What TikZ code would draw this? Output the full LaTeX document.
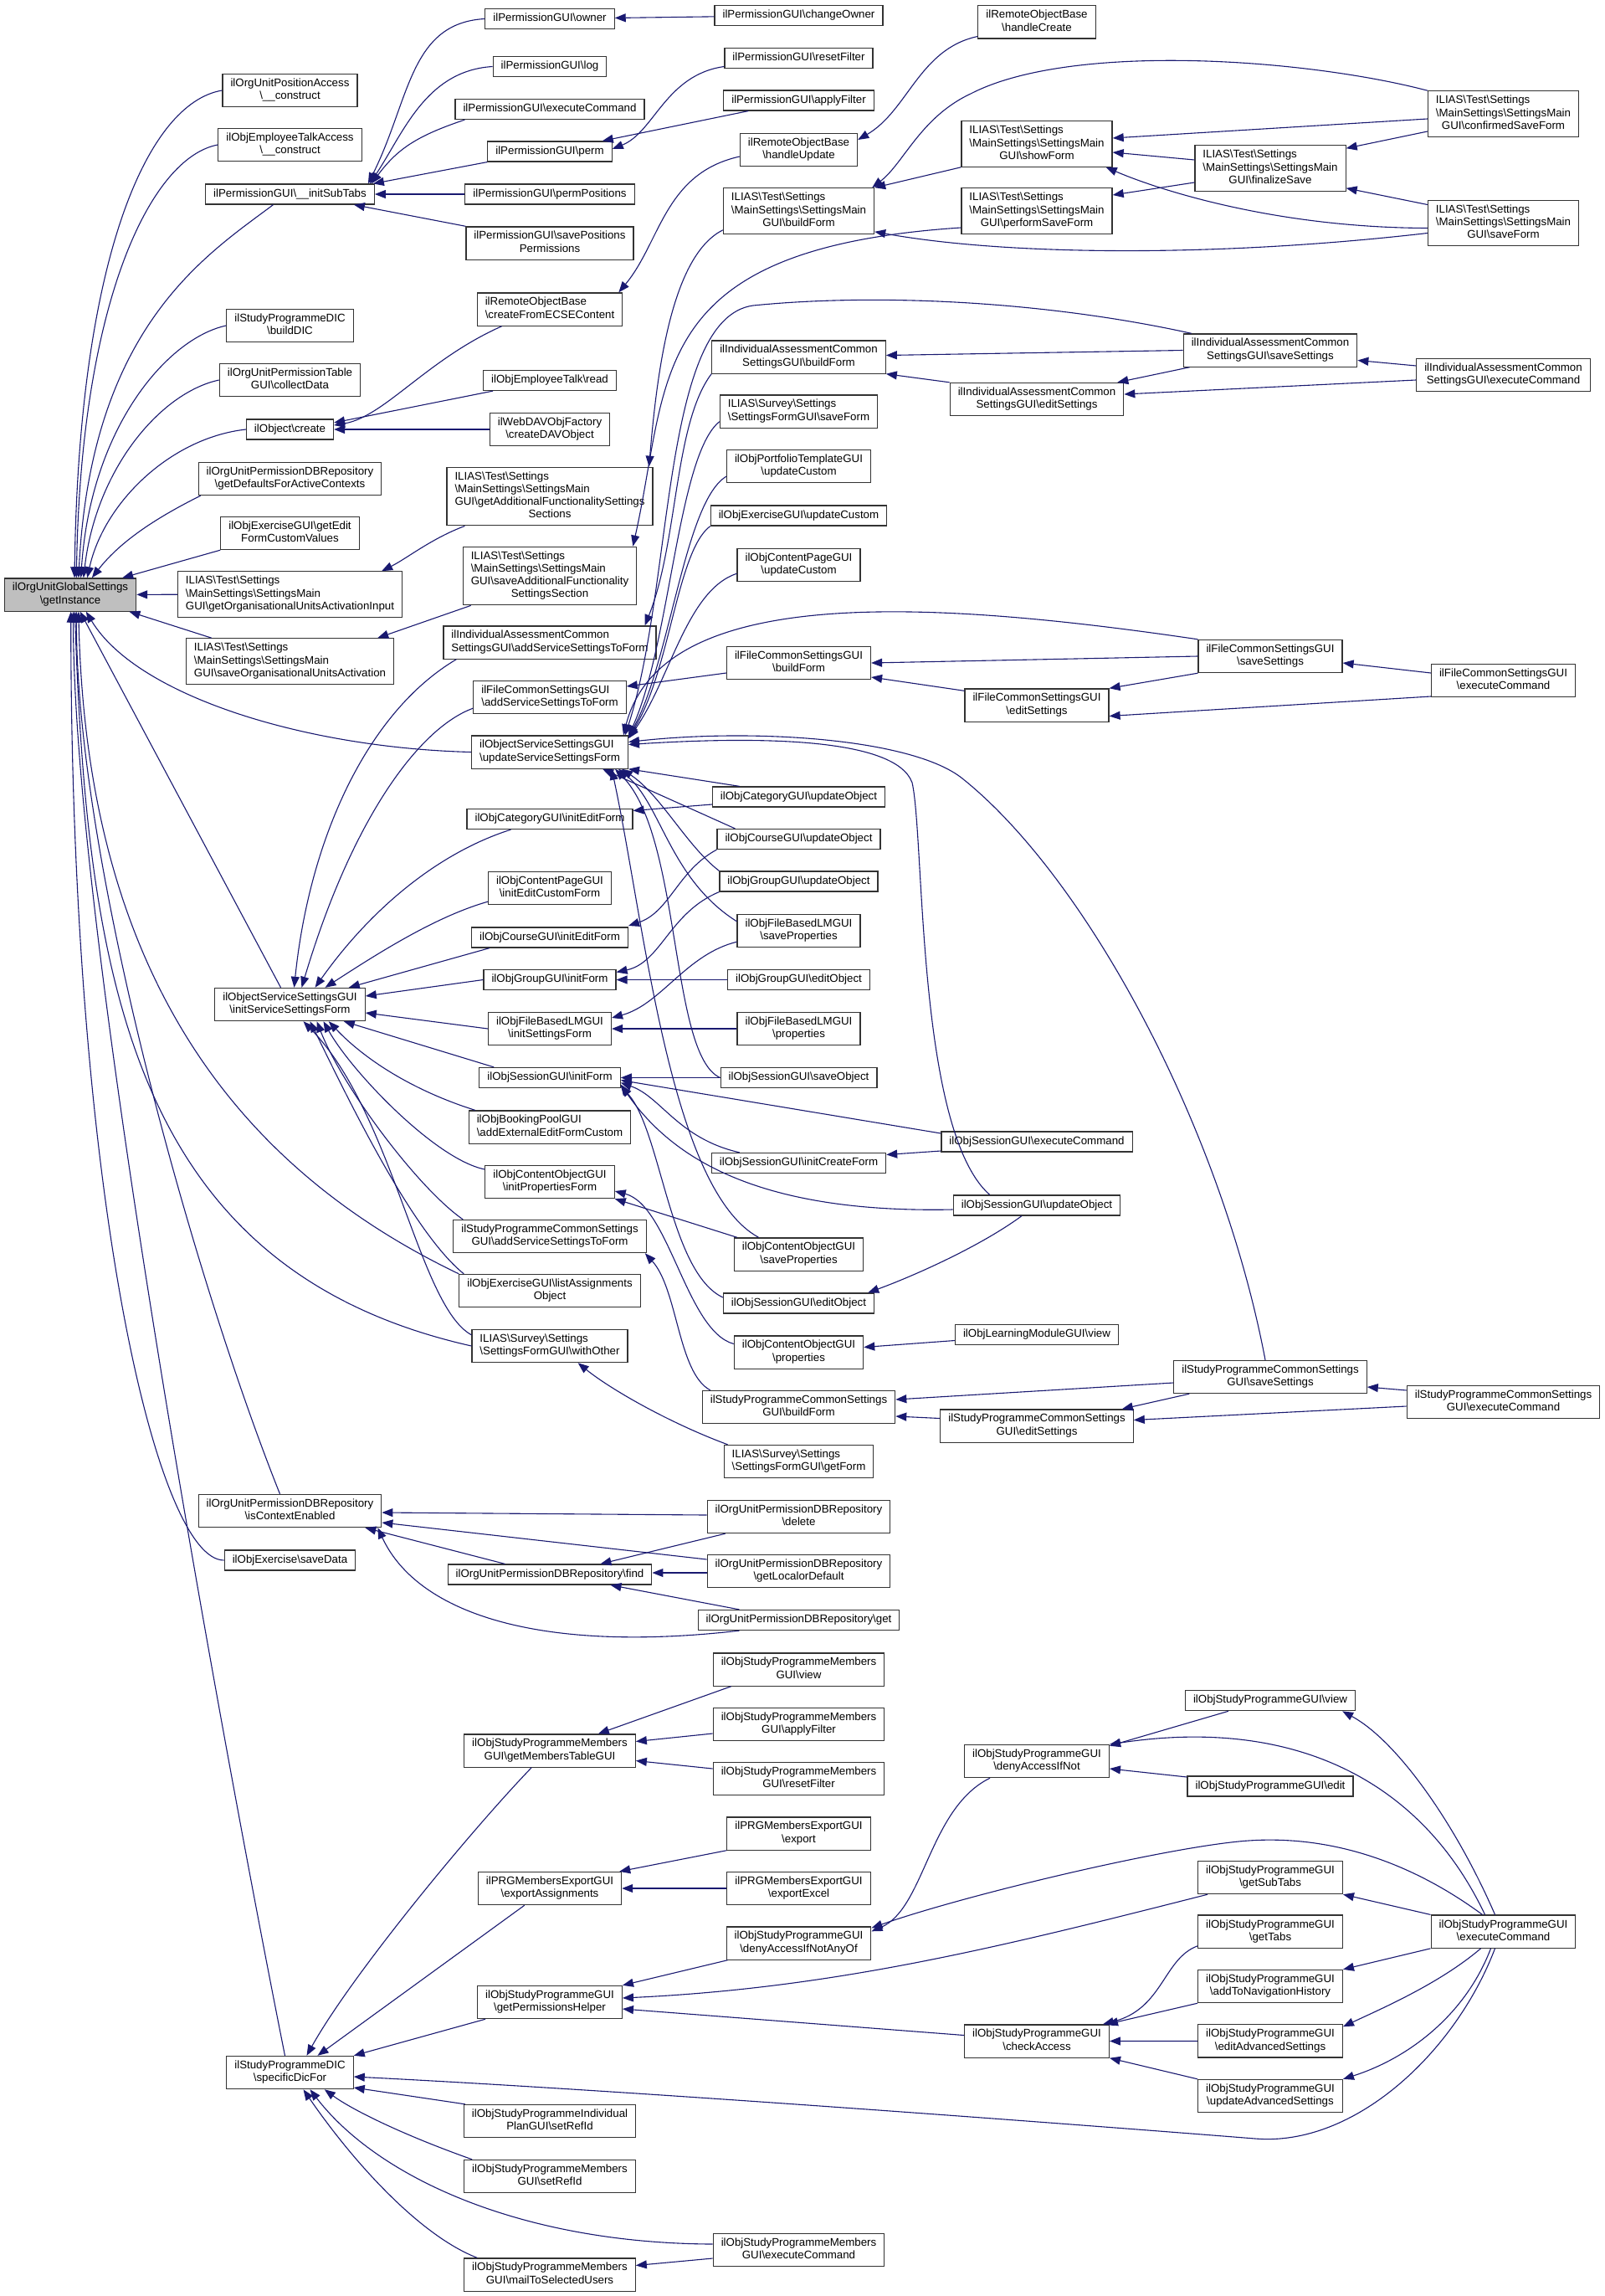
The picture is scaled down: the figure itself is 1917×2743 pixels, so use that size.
\documentclass[tikz,border=0pt]{standalone}
\usepackage{fontspec}
\setmainfont{Liberation Sans}
\usepackage{tikz}
\usetikzlibrary{arrows.meta}
\definecolor{edgeblue}{RGB}{25,25,112}
\definecolor{rootgray}{RGB}{191,191,191}
\newcommand{\bsl}{\textbackslash}
\newcommand{\fnl}[1]{\begin{tabular}{@{}c@{}}#1\end{tabular}}
\newcommand{\fnm}[2]{\begin{tabular}{@{}l@{}}#1\\\multicolumn{1}{@{}c@{}}{#2}\end{tabular}}
\newcommand{\mainset}[1]{\fnm{ILIAS\bsl Test\bsl Settings\\\bsl MainSettings\bsl SettingsMain}{#1}}
\tikzset{
  fn/.style={draw=black!80, line width=1.2pt, fill=white, inner xsep=9.5pt, inner ysep=4.4pt, font=\fontsize{13.3}{15.2}\selectfont},
  fnroot/.style={fn, fill=rootgray},
  cg/.style={draw=edgeblue, line width=1.1pt, -{Triangle[length=13pt,width=10pt]}},
}
\begin{document}
\begin{tikzpicture}[x=1pt, y=1pt]
\useasboundingbox (0,0) rectangle (1917,-2743);
% Create nodes for the called functions
\node[fnroot] (getInstance) at (84,-710.5) {\fnm{ilOrgUnitGlobalSettings}{\bsl getInstance}};

\node[fn] (posAccess) at (346.5,-108) {\fnm{ilOrgUnitPositionAccess}{\bsl\_\_construct}};
\node[fn, below of=posAccess, node distance=65pt] (empTalkAccess) {\fnm{ilObjEmployeeTalkAccess}{\bsl\_\_construct}};
\node[fn, below of=empTalkAccess, node distance=59pt] (initSubTabs) {\fnl{ilPermissionGUI\bsl\_\_initSubTabs}};
\node[fn, below of=initSubTabs, node distance=157pt] (buildDIC) {\fnm{ilStudyProgrammeDIC}{\bsl buildDIC}};
\node[fn, below of=buildDIC, node distance=65pt] (collectData) {\fnm{ilOrgUnitPermissionTable}{GUI\bsl collectData}};
\node[fn, below of=collectData, node distance=59pt] (objCreate) {\fnl{ilObject\bsl create}};
\node[fn, below of=objCreate, node distance=59pt] (getDefaults) {\fnm{ilOrgUnitPermissionDBRepository}{\bsl getDefaultsForActiveContexts}};
\node[fn, below of=getDefaults, node distance=65pt] (getEditForm) {\fnm{ilObjExerciseGUI\bsl getEdit}{FormCustomValues}};
\node[fn, below of=getEditForm, node distance=73pt] (getOrgInput) {\mainset{GUI\bsl getOrganisationalUnitsActivationInput}};
\node[fn, below of=getOrgInput, node distance=80pt] (saveOrgAct) {\mainset{GUI\bsl saveOrganisationalUnitsActivation}};
\node[fn, below of=saveOrgAct, node distance=410pt] (initSvcForm) {\fnm{ilObjectServiceSettingsGUI}{\bsl initServiceSettingsForm}};
\node[fn, below of=initSvcForm, node distance=605pt] (isCtxEnabled) {\fnm{ilOrgUnitPermissionDBRepository}{\bsl isContextEnabled}};
\node[fn, below of=isCtxEnabled, node distance=59pt] (saveData) {\fnl{ilObjExercise\bsl saveData}};
\node[fn, below of=saveData, node distance=612pt] (specificDicFor) {\fnm{ilStudyProgrammeDIC}{\bsl specificDicFor}};

\node[fn] (owner) at (657,-22.5) {\fnl{ilPermissionGUI\bsl owner}};
\node[fn, below of=owner, node distance=57pt] (log) {\fnl{ilPermissionGUI\bsl log}};
\node[fn, below of=log, node distance=51pt] (permExec) {\fnl{ilPermissionGUI\bsl executeCommand}};
\node[fn, below of=permExec, node distance=50.5pt] (perm) {\fnl{ilPermissionGUI\bsl perm}};
\node[fn, below of=perm, node distance=51pt] (permPositions) {\fnl{ilPermissionGUI\bsl permPositions}};
\node[fn, below of=permPositions, node distance=58.5pt] (savePosPerm) {\fnm{ilPermissionGUI\bsl savePositions}{Permissions}};
\node[fn, below of=savePosPerm, node distance=79pt] (createFromECS) {\fnm{ilRemoteObjectBase}{\bsl createFromECSEContent}};
\node[fn, below of=createFromECS, node distance=85pt] (empTalkRead) {\fnl{ilObjEmployeeTalk\bsl read}};
\node[fn, below of=empTalkRead, node distance=58.5pt] (davObj) {\fnm{ilWebDAVObjFactory}{\bsl createDAVObject}};
\node[fn, below of=davObj, node distance=80pt] (getAddFunc) {\fnm{ILIAS\bsl Test\bsl Settings\\\bsl MainSettings\bsl SettingsMain\\GUI\bsl getAdditionalFunctionalitySettings}{Sections}};
\node[fn, below of=getAddFunc, node distance=95pt] (saveAddFunc) {\fnm{ILIAS\bsl Test\bsl Settings\\\bsl MainSettings\bsl SettingsMain\\GUI\bsl saveAdditionalFunctionality}{SettingsSection}};
\node[fn, below of=saveAddFunc, node distance=79.5pt] (iaAddSvc) {\fnm{ilIndividualAssessmentCommon}{SettingsGUI\bsl addServiceSettingsToForm}};
\node[fn, below of=iaAddSvc, node distance=65.5pt] (fcAddSvc) {\fnm{ilFileCommonSettingsGUI}{\bsl addServiceSettingsToForm}};
\node[fn, below of=fcAddSvc, node distance=65.5pt] (updSvc) {\fnm{ilObjectServiceSettingsGUI}{\bsl updateServiceSettingsForm}};
\node[fn, below of=updSvc, node distance=80pt] (catInitEdit) {\fnl{ilObjCategoryGUI\bsl initEditForm}};
\node[fn, below of=catInitEdit, node distance=82.5pt] (cpInitEdit) {\fnm{ilObjContentPageGUI}{\bsl initEditCustomForm}};
\node[fn, below of=cpInitEdit, node distance=59pt] (crsInitEdit) {\fnl{ilObjCourseGUI\bsl initEditForm}};
\node[fn, below of=crsInitEdit, node distance=50.5pt] (grpInitForm) {\fnl{ilObjGroupGUI\bsl initForm}};
\node[fn, below of=grpInitForm, node distance=58.5pt] (flmInitSet) {\fnm{ilObjFileBasedLMGUI}{\bsl initSettingsForm}};
\node[fn, below of=flmInitSet, node distance=58.5pt] (sessInitForm) {\fnl{ilObjSessionGUI\bsl initForm}};
\node[fn, below of=sessInitForm, node distance=59pt] (bookPool) {\fnm{ilObjBookingPoolGUI}{\bsl addExternalEditFormCustom}};
\node[fn, below of=bookPool, node distance=65.5pt] (coInitProp) {\fnm{ilObjContentObjectGUI}{\bsl initPropertiesForm}};
\node[fn, below of=coInitProp, node distance=65pt] (spAddSvc) {\fnm{ilStudyProgrammeCommonSettings}{GUI\bsl addServiceSettingsToForm}};
\node[fn, below of=spAddSvc, node distance=65pt] (excListAss) {\fnm{ilObjExerciseGUI\bsl listAssignments}{Object}};
\node[fn, below of=excListAss, node distance=66pt] (survWithOther) {\fnm{ILIAS\bsl Survey\bsl Settings}{\bsl SettingsFormGUI\bsl withOther}};
\node[fn, below of=survWithOther, node distance=273pt] (find) {\fnl{ilOrgUnitPermissionDBRepository\bsl find}};
\node[fn, below of=find, node distance=210.5pt] (getMembersTable) {\fnm{ilObjStudyProgrammeMembers}{GUI\bsl getMembersTableGUI}};
\node[fn, below of=getMembersTable, node distance=164.5pt] (exportAss) {\fnm{ilPRGMembersExportGUI}{\bsl exportAssignments}};
\node[fn, below of=exportAss, node distance=136pt] (getPermHelper) {\fnm{ilObjStudyProgrammeGUI}{\bsl getPermissionsHelper}};
\node[fn, below of=getPermHelper, node distance=142pt] (indivPlan) {\fnm{ilObjStudyProgrammeIndividual}{PlanGUI\bsl setRefId}};
\node[fn, below of=indivPlan, node distance=66pt] (membersSetRef) {\fnm{ilObjStudyProgrammeMembers}{GUI\bsl setRefId}};
\node[fn, below of=membersSetRef, node distance=117.5pt] (mailSel) {\fnm{ilObjStudyProgrammeMembers}{GUI\bsl mailToSelectedUsers}};

\node[fn] (changeOwner) at (954.5,-18.5) {\fnl{ilPermissionGUI\bsl changeOwner}};
\node[fn, below of=changeOwner, node distance=51pt] (resetFilter) {\fnl{ilPermissionGUI\bsl resetFilter}};
\node[fn, below of=resetFilter, node distance=50.5pt] (applyFilter) {\fnl{ilPermissionGUI\bsl applyFilter}};
\node[fn, below of=applyFilter, node distance=59pt] (handleUpdate) {\fnm{ilRemoteObjectBase}{\bsl handleUpdate}};
\node[fn, below of=handleUpdate, node distance=73pt] (buildFormTest) {\mainset{GUI\bsl buildForm}};
\node[fn, below of=buildFormTest, node distance=174.5pt] (iaBuildForm) {\fnm{ilIndividualAssessmentCommon}{SettingsGUI\bsl buildForm}};
\node[fn, below of=iaBuildForm, node distance=65pt] (survSaveForm) {\fnm{ILIAS\bsl Survey\bsl Settings}{\bsl SettingsFormGUI\bsl saveForm}};
\node[fn, below of=survSaveForm, node distance=65.5pt] (portfolio) {\fnm{ilObjPortfolioTemplateGUI}{\bsl updateCustom}};
\node[fn, below of=portfolio, node distance=59pt] (excUpdCustom) {\fnl{ilObjExerciseGUI\bsl updateCustom}};
\node[fn, below of=excUpdCustom, node distance=59pt] (cpUpdCustom) {\fnm{ilObjContentPageGUI}{\bsl updateCustom}};
\node[fn, below of=cpUpdCustom, node distance=117pt] (fcBuildForm) {\fnm{ilFileCommonSettingsGUI}{\bsl buildForm}};
\node[fn, below of=fcBuildForm, node distance=160pt] (catUpdObj) {\fnl{ilObjCategoryGUI\bsl updateObject}};
\node[fn, below of=catUpdObj, node distance=50.5pt] (crsUpdObj) {\fnl{ilObjCourseGUI\bsl updateObject}};
\node[fn, below of=crsUpdObj, node distance=50.5pt] (grpUpdObj) {\fnl{ilObjGroupGUI\bsl updateObject}};
\node[fn, below of=grpUpdObj, node distance=59pt] (flmSaveProp) {\fnm{ilObjFileBasedLMGUI}{\bsl saveProperties}};
\node[fn, below of=flmSaveProp, node distance=58.5pt] (grpEdit) {\fnl{ilObjGroupGUI\bsl editObject}};
\node[fn, below of=grpEdit, node distance=58.5pt] (flmProps) {\fnm{ilObjFileBasedLMGUI}{\bsl properties}};
\node[fn, below of=flmProps, node distance=58.5pt] (sessSave) {\fnl{ilObjSessionGUI\bsl saveObject}};
\node[fn, below of=sessSave, node distance=102pt] (sessInitCreate) {\fnl{ilObjSessionGUI\bsl initCreateForm}};
\node[fn, below of=sessInitCreate, node distance=109pt] (coSaveProp) {\fnm{ilObjContentObjectGUI}{\bsl saveProperties}};
\node[fn, below of=coSaveProp, node distance=58.5pt] (sessEdit) {\fnl{ilObjSessionGUI\bsl editObject}};
\node[fn, below of=sessEdit, node distance=58.5pt] (coProps) {\fnm{ilObjContentObjectGUI}{\bsl properties}};
\node[fn, below of=coProps, node distance=65.5pt] (spBuildForm) {\fnm{ilStudyProgrammeCommonSettings}{GUI\bsl buildForm}};
\node[fn, below of=spBuildForm, node distance=65pt] (survGetForm) {\fnm{ILIAS\bsl Survey\bsl Settings}{\bsl SettingsFormGUI\bsl getForm}};
\node[fn, below of=survGetForm, node distance=66pt] (repoDelete) {\fnm{ilOrgUnitPermissionDBRepository}{\bsl delete}};
\node[fn, below of=repoDelete, node distance=65pt] (repoGetLocal) {\fnm{ilOrgUnitPermissionDBRepository}{\bsl getLocalorDefault}};
\node[fn, below of=repoGetLocal, node distance=58.5pt] (repoGet) {\fnl{ilOrgUnitPermissionDBRepository\bsl get}};
\node[fn, below of=repoGet, node distance=59pt] (membersView) {\fnm{ilObjStudyProgrammeMembers}{GUI\bsl view}};
\node[fn, below of=membersView, node distance=65.5pt] (membersApply) {\fnm{ilObjStudyProgrammeMembers}{GUI\bsl applyFilter}};
\node[fn, below of=membersApply, node distance=65pt] (membersReset) {\fnm{ilObjStudyProgrammeMembers}{GUI\bsl resetFilter}};
\node[fn, below of=membersReset, node distance=65.5pt] (prgExport) {\fnm{ilPRGMembersExportGUI}{\bsl export}};
\node[fn, below of=prgExport, node distance=65.5pt] (prgExportExcel) {\fnm{ilPRGMembersExportGUI}{\bsl exportExcel}};
\node[fn, below of=prgExportExcel, node distance=65.5pt] (denyAnyOf) {\fnm{ilObjStudyProgrammeGUI}{\bsl denyAccessIfNotAnyOf}};
\node[fn, below of=denyAnyOf, node distance=366.5pt] (membersExec) {\fnm{ilObjStudyProgrammeMembers}{GUI\bsl executeCommand}};

\node[fn] (handleCreate) at (1239,-26.5) {\fnm{ilRemoteObjectBase}{\bsl handleCreate}};
\node[fn, below of=handleCreate, node distance=145.5pt] (showForm) {\mainset{GUI\bsl showForm}};
\node[fn, below of=showForm, node distance=80pt] (performSave) {\mainset{GUI\bsl performSaveForm}};
\node[fn, below of=performSave, node distance=225pt] (iaEdit) {\fnm{ilIndividualAssessmentCommon}{SettingsGUI\bsl editSettings}};
\node[fn, below of=iaEdit, node distance=365.5pt] (fcEdit) {\fnm{ilFileCommonSettingsGUI}{\bsl editSettings}};
\node[fn, below of=fcEdit, node distance=521.5pt] (sessExec) {\fnl{ilObjSessionGUI\bsl executeCommand}};
\node[fn, below of=sessExec, node distance=76pt] (sessUpd) {\fnl{ilObjSessionGUI\bsl updateObject}};
\node[fn, below of=sessUpd, node distance=154.5pt] (lmView) {\fnl{ilObjLearningModuleGUI\bsl view}};
\node[fn, below of=lmView, node distance=109pt] (spEdit) {\fnm{ilStudyProgrammeCommonSettings}{GUI\bsl editSettings}};
\node[fn, below of=spEdit, node distance=400.5pt] (denyIfNot) {\fnm{ilObjStudyProgrammeGUI}{\bsl denyAccessIfNot}};
\node[fn, below of=denyIfNot, node distance=334.5pt] (checkAccess) {\fnm{ilObjStudyProgrammeGUI}{\bsl checkAccess}};

\node[fn] (finalizeSave) at (1518,-201) {\mainset{GUI\bsl finalizeSave}};
\node[fn, below of=finalizeSave, node distance=217.5pt] (iaSave) {\fnm{ilIndividualAssessmentCommon}{SettingsGUI\bsl saveSettings}};
\node[fn, below of=iaSave, node distance=365.5pt] (fcSave) {\fnm{ilFileCommonSettingsGUI}{\bsl saveSettings}};
\node[fn, below of=fcSave, node distance=861pt] (spSave) {\fnm{ilStudyProgrammeCommonSettings}{GUI\bsl saveSettings}};
\node[fn, below of=spSave, node distance=386.7pt] (spgView) {\fnl{ilObjStudyProgrammeGUI\bsl view}};
\node[fn, below of=spgView, node distance=102.3pt] (spgEdit) {\fnl{ilObjStudyProgrammeGUI\bsl edit}};
\node[fn, below of=spgEdit, node distance=109pt] (getSubTabs) {\fnm{ilObjStudyProgrammeGUI}{\bsl getSubTabs}};
\node[fn, below of=getSubTabs, node distance=64.6pt] (getTabs) {\fnm{ilObjStudyProgrammeGUI}{\bsl getTabs}};
\node[fn, below of=getTabs, node distance=65.4pt] (addNav) {\fnm{ilObjStudyProgrammeGUI}{\bsl addToNavigationHistory}};
\node[fn, below of=addNav, node distance=65.4pt] (editAdv) {\fnm{ilObjStudyProgrammeGUI}{\bsl editAdvancedSettings}};
\node[fn, below of=editAdv, node distance=65.6pt] (updAdv) {\fnm{ilObjStudyProgrammeGUI}{\bsl updateAdvancedSettings}};

\node[fn] (confirmedSave) at (1796.5,-136) {\mainset{GUI\bsl confirmedSaveForm}};
\node[fn, below of=confirmedSave, node distance=130.5pt] (saveFormTest) {\mainset{GUI\bsl saveForm}};
\node[fn, below of=saveFormTest, node distance=181.5pt] (iaExec) {\fnm{ilIndividualAssessmentCommon}{SettingsGUI\bsl executeCommand}};
\node[fn, below of=iaExec, node distance=365pt] (fcExec) {\fnm{ilFileCommonSettingsGUI}{\bsl executeCommand}};
\node[fn, below of=fcExec, node distance=862pt] (spExec) {\fnm{ilStudyProgrammeCommonSettings}{GUI\bsl executeCommand}};
\node[fn, below of=spExec, node distance=632.6pt] (spgExec) {\fnm{ilObjStudyProgrammeGUI}{\bsl executeCommand}};

% Callers of getInstance
\draw[cg] (posAccess.west) .. controls +(-90,-15) and +(5,380) .. (getInstance.76);
\draw[cg] (empTalkAccess.west) .. controls +(-80,-15) and +(5,330) .. (getInstance.70);
\draw[cg] ([xshift=-20pt]initSubTabs.south) .. controls +(-80,-60) and +(15,300) .. (getInstance.64);
\draw[cg] (buildDIC.west) .. controls +(-70,-15) and +(12,180) .. (getInstance.58);
\draw[cg] (collectData.west) .. controls +(-70,-15) and +(15,130) .. (getInstance.52);
\draw[cg] (objCreate.west) .. controls +(-90,-10) and +(20,90) .. (getInstance.45);
\draw[cg] ([xshift=3pt]getDefaults.south west) .. controls +(-50,-25) and +(35,45) .. (getInstance.38);
\draw[cg] (getEditForm.south west) -- (getInstance.18);
\draw[cg] (getOrgInput) -- (getInstance);
\draw[cg] ([xshift=31pt]saveOrgAct.north west) -- (getInstance.-16);
\draw[cg] (updSvc.west) .. controls +(-200,5) and +(60,-100) .. (getInstance.-47);
\draw[cg] ([xshift=-11pt]initSvcForm.north) -- (getInstance.-60);
\draw[cg] (excListAss.north west) .. controls +(-250,120) and +(10,-450) .. (getInstance.-64);
\draw[cg] (survWithOther.west) .. controls +(-400,90) and +(15,-450) .. (getInstance.-75);
\draw[cg] ([xshift=-12pt]isCtxEnabled.north) .. controls +(-100,250) and +(0,-300) .. (getInstance.-70);
\draw[cg] (saveData.west) .. controls +(-80,0) and +(0,-700) .. (getInstance.-88);
\draw[cg] ([xshift=-6pt]specificDicFor.north) .. controls +(-60,300) and +(0,-400) .. (getInstance.-80);

% Permission GUI
\draw[cg] (owner.west) .. controls +(-90,-5) and +(50,100) .. ([xshift=-8pt]initSubTabs.north east);
\draw[cg] (log.west) .. controls +(-80,-5) and +(40,60) .. ([xshift=-6pt]initSubTabs.north east);
\draw[cg] ([xshift=12pt]permExec.south west) .. controls +(-60,-20) and +(30,40) .. ([xshift=-4pt]initSubTabs.north east);
\draw[cg] (perm.south west) -- ([xshift=-2pt]initSubTabs.north east);
\draw[cg] (permPositions) -- (initSubTabs);
\draw[cg] (savePosPerm.north west) -- ([xshift=-25pt]initSubTabs.south east);
\draw[cg] (changeOwner) -- (owner);
\draw[cg] ([yshift=-10pt]resetFilter.west) .. controls +(-70,-10) and +(50,20) .. ([yshift=3pt]perm.east);
\draw[cg] ([xshift=30pt]applyFilter.south west) -- ([xshift=-12pt]perm.north east);

% Remote objects and create
\draw[cg] ([yshift=-8pt]handleUpdate.west) .. controls +(-90,-20) and +(50,60) .. ([xshift=-5pt]createFromECS.north east);
\draw[cg] ([yshift=-17pt]handleCreate.west) .. controls +(-70,-15) and +(60,35) .. ([yshift=12pt]handleUpdate.east);
\draw[cg] ([xshift=30pt]createFromECS.south west) .. controls +(-90,-40) and +(60,10) .. ([yshift=5pt]objCreate.east);
\draw[cg] ([xshift=12pt]empTalkRead.south west) -- ([yshift=8pt]objCreate.east);
\draw[cg] (davObj) -- (objCreate);

% Test settings
\draw[cg] ([yshift=5pt]buildFormTest.south west) .. controls +(-60,-30) and +(10,120) .. ([xshift=-5pt]getAddFunc.north east);
\draw[cg] ([xshift=22pt]getAddFunc.south west) .. controls +(-40,-15) and +(30,15) .. ([xshift=-25pt]getOrgInput.north east);
\draw[cg] ([xshift=10pt]saveAddFunc.south west) -- ([xshift=-20pt]saveOrgAct.north east);
\draw[cg] ([yshift=-20pt]performSave.west) .. controls +(-380,-25) and +(45,200) .. ([xshift=-5pt]saveAddFunc.north east);
\draw[cg] (showForm.south west) -- (buildFormTest.north east);
\draw[cg] (confirmedSave.north west) .. controls (1560,-70) and (1280,-50) .. (1160,-112) .. controls (1100,-140) and (1080,-195) .. ([xshift=-3pt]buildFormTest.north east);
\draw[cg] ([yshift=-12pt]saveFormTest.west) .. controls (1450,-308) and (1200,-305) .. ([yshift=3pt]buildFormTest.south east);
\draw[cg] ([yshift=-6pt]confirmedSave.west) -- ([yshift=7pt]showForm.east);
\draw[cg] ([yshift=10pt]finalizeSave.west) -- ([yshift=-10pt]showForm.east);
\draw[cg] ([yshift=-6pt]saveFormTest.west) .. controls (1520,-272) and (1380,-225) .. ([xshift=-8pt]showForm.south east);
\draw[cg] ([yshift=-17pt]finalizeSave.west) -- ([yshift=19pt]performSave.east);
\draw[cg] ([yshift=-21pt]confirmedSave.west) -- ([yshift=-4pt]finalizeSave.north east);
\draw[cg] ([yshift=22pt]saveFormTest.west) -- ([yshift=4pt]finalizeSave.south east);

% Individual assessment and file settings
\draw[cg] (iaBuildForm.south west) .. controls +(-45,-60) and +(40,100) .. ([xshift=-14pt]iaAddSvc.north east);
\draw[cg] (iaSave.west) -- ([yshift=2pt]iaBuildForm.east);
\draw[cg] (iaEdit.north west) -- (iaBuildForm.south east);
\draw[cg] ([xshift=8pt]iaSave.south west) -- ([xshift=-8pt]iaEdit.north east);
\draw[cg] ([yshift=-6pt]iaExec.west) -- ([yshift=6pt]iaEdit.east);
\draw[cg] ([yshift=11pt]iaExec.west) -- ([yshift=-12pt]iaSave.east);
\draw[cg] ([yshift=-12pt]fcBuildForm.west) -- ([yshift=13pt]fcAddSvc.east);
\draw[cg] (fcSave.west) -- (fcBuildForm.east);
\draw[cg] ([yshift=-3pt]fcEdit.north west) -- ([yshift=-17pt]fcBuildForm.east);
\draw[cg] (fcSave.south west) -- (fcEdit.north east);
\draw[cg] ([yshift=-19pt]fcExec.west) -- ([yshift=-13pt]fcEdit.east);
\draw[cg] ([yshift=9pt]fcExec.west) -- ([yshift=-8pt]fcSave.east);

% Callers of updateServiceSettingsForm
\draw[cg] ([yshift=8pt]survSaveForm.south west) .. controls +(-50,-40) and +(50,110) .. ([yshift=-1pt]updSvc.north east);
\draw[cg] ([yshift=8pt]portfolio.south west) .. controls +(-50,-30) and +(50,90) .. ([yshift=-2pt]updSvc.north east);
\draw[cg] (excUpdCustom.south west) .. controls +(-40,-30) and +(50,80) .. ([yshift=-3pt]updSvc.north east);
\draw[cg] ([yshift=10pt]cpUpdCustom.south west) .. controls +(-60,-20) and +(50,70) .. ([yshift=-4pt]updSvc.north east);
\draw[cg] ([xshift=10pt]iaSave.north west) .. controls (1250,-360) and (1050,-350) .. (900,-365) .. controls (790,-380) and (805,-700) .. ([xshift=-4pt]updSvc.north east);
\draw[cg] (fcSave.north west) .. controls (1100,-715) and (790,-700) .. ([xshift=-6pt]updSvc.north east);
\draw[cg] ([xshift=-6pt]spSave.north) .. controls (1460,-1350) and (1300,-1050) .. (1150,-930) .. controls (1090,-882) and (900,-870) .. ([yshift=12pt]updSvc.east);
\draw[cg] ([xshift=44pt]sessUpd.north west) .. controls (1095,-1350) and (1105,-1000) .. (1090,-935) .. controls (1070,-880) and (900,-880) .. ([yshift=9pt]updSvc.east);
\draw[cg] ([xshift=33pt]catUpdObj.north west) -- (updSvc.south east);
\draw[cg] ([xshift=22pt]crsUpdObj.north west) -- ([xshift=-31pt]updSvc.south east);
\draw[cg] (grpUpdObj.north west) .. controls (820,-1010) and (790,-950) .. ([xshift=-8pt]updSvc.south east);
\draw[cg] ([yshift=-9pt]flmSaveProp.north west) .. controls (800,-1050) and (790,-960) .. ([xshift=-12pt]updSvc.south east);
\draw[cg] (sessSave.west) .. controls (800,-1260) and (815,-1000) .. ([xshift=-16pt]updSvc.south east);
\draw[cg] ([xshift=-48pt]coSaveProp.north) .. controls (800,-1420) and (770,-1100) .. ([xshift=-20pt]updSvc.south east);

% Callers of initServiceSettingsForm
\draw[cg] ([xshift=16pt]iaAddSvc.south west) .. controls (440,-850) and (370,-1000) .. ([xshift=5pt]initSvcForm.north);
\draw[cg] ([yshift=7pt]fcAddSvc.south west) .. controls (500,-870) and (420,-980) .. ([xshift=14pt]initSvcForm.north);
\draw[cg] ([xshift=53pt]catInitEdit.south west) .. controls (520,-1020) and (440,-1090) .. ([xshift=30pt]initSvcForm.north);
\draw[cg] ([yshift=4pt]cpInitEdit.south west) .. controls (520,-1095) and (450,-1140) .. ([xshift=42pt]initSvcForm.north);
\draw[cg] ([xshift=22pt]crsInitEdit.south west) -- ([xshift=-20pt]initSvcForm.north east);
\draw[cg] (grpInitForm.west) -- ([yshift=10pt]initSvcForm.east);
\draw[cg] (flmInitSet.west) -- ([yshift=-10pt]initSvcForm.east);
\draw[cg] ([xshift=18pt]sessInitForm.north west) -- ([xshift=-26pt]initSvcForm.south east);
\draw[cg] ([xshift=8pt]bookPool.north west) .. controls (500,-1305) and (440,-1270) .. ([xshift=-44pt]initSvcForm.south east);
\draw[cg] ([yshift=15pt]coInitProp.west) .. controls (520,-1385) and (420,-1280) .. ([xshift=40pt]initSvcForm.south);
\draw[cg] ([xshift=12pt]spAddSvc.north west) .. controls (500,-1420) and (410,-1300) .. ([xshift=32pt]initSvcForm.south);
\draw[cg] ([xshift=6pt]excListAss.north west) .. controls (490,-1470) and (410,-1300) .. ([xshift=24pt]initSvcForm.south);
\draw[cg] ([yshift=-7pt]survWithOther.north west) .. controls (500,-1560) and (470,-1330) .. ([xshift=16pt]initSvcForm.south);

% Object GUIs
\draw[cg] ([yshift=-9pt]catUpdObj.west) -- ([yshift=10pt]catInitEdit.east);
\draw[cg] (crsUpdObj.south west) .. controls (810,-1040) and (800,-1090) .. ([yshift=14pt]crsInitEdit.east);
\draw[cg] (grpUpdObj.south west) .. controls (800,-1090) and (790,-1150) .. ([yshift=9pt]grpInitForm.east);
\draw[cg] (grpEdit) -- (grpInitForm);
\draw[cg] ([yshift=7pt]flmSaveProp.south west) .. controls (820,-1140) and (790,-1200) .. ([yshift=13pt]flmInitSet.east);
\draw[cg] (flmProps) -- (flmInitSet);
\draw[cg] (sessSave) -- (sessInitForm);
\draw[cg] ([xshift=34pt]sessInitCreate.north west) .. controls (810,-1360) and (790,-1310) .. ([yshift=-6pt]sessInitForm.east);
\draw[cg] ([yshift=10pt]sessExec.west) -- ([yshift=-3pt]sessInitForm.east);
\draw[cg] ([yshift=-5pt]sessUpd.west) .. controls (900,-1450) and (800,-1380) .. ([yshift=-8pt]sessInitForm.east);
\draw[cg] ([yshift=7pt]sessEdit.west) .. controls (800,-1520) and (790,-1350) .. ([yshift=-10pt]sessInitForm.east);
\draw[cg] ([yshift=-11pt]sessExec.west) -- ([yshift=10pt]sessInitCreate.east);
\draw[cg] ([xshift=-18pt]sessUpd.south) .. controls (1170,-1490) and (1090,-1525) .. ([xshift=-8pt]sessEdit.north east);
\draw[cg] ([xshift=4pt]coSaveProp.north west) -- (coInitProp.south east);
\draw[cg] ([yshift=10pt]coProps.west) .. controls (820,-1590) and (800,-1440) .. ([yshift=-11pt]coInitProp.east);
\draw[cg] ([yshift=-7pt]lmView.west) -- ([yshift=6pt]coProps.east);

% Study programme settings and survey
\draw[cg] ([xshift=10pt]spBuildForm.north west) .. controls (810,-1640) and (810,-1540) .. ([xshift=-2pt]spAddSvc.south east);
\draw[cg] ([xshift=5pt]survGetForm.north west) .. controls (800,-1700) and (730,-1660) .. ([xshift=-60pt]survWithOther.south east);
\draw[cg] ([yshift=-7pt]spSave.west) -- ([yshift=9pt]spBuildForm.east);
\draw[cg] ([yshift=9pt]spEdit.west) -- ([yshift=-11pt]spBuildForm.east);
\draw[cg] ([xshift=19pt]spSave.south west) -- ([xshift=-14pt]spEdit.north east);
\draw[cg] ([yshift=-5pt]spExec.west) -- ([yshift=7pt]spEdit.east);
\draw[cg] ([yshift=14pt]spExec.west) -- ([yshift=-12pt]spSave.east);

% Permission repository
\draw[cg] ([yshift=2pt]repoDelete.west) -- ([yshift=-2pt]isCtxEnabled.east);
\draw[cg] ([yshift=14pt]repoGetLocal.west) -- ([yshift=-14pt]isCtxEnabled.east);
\draw[cg] ([xshift=69pt]find.north west) -- ([xshift=-20pt]isCtxEnabled.south east);
\draw[cg] ([xshift=50pt]repoGet.south west) .. controls (650,-1975) and (500,-1930) .. ([xshift=-5pt]isCtxEnabled.south east);
\draw[cg] ([xshift=22pt]repoDelete.south west) -- ([xshift=-62pt]find.north east);
\draw[cg] ([yshift=-2pt]repoGetLocal.west) -- ([yshift=2pt]find.east);
\draw[cg] ([xshift=50pt]repoGet.north west) -- ([xshift=-50pt]find.south east);

% Study programme GUI
\draw[cg] ([xshift=81pt]getMembersTable.south west) .. controls (560,-2190) and (420,-2360) .. ([xshift=20pt]specificDicFor.north);
\draw[cg] ([xshift=56pt]exportAss.south west) -- ([xshift=33pt]specificDicFor.north);
\draw[cg] ([xshift=10pt]getPermHelper.south west) -- (specificDicFor.north east);
\draw[cg] ([xshift=-10pt]spgExec.south) .. controls (1740,-2450) and (1620,-2565) .. (1500,-2555) .. controls (1400,-2547) and (800,-2500) .. ([yshift=-5pt]specificDicFor.east);
\draw[cg] ([xshift=2pt]indivPlan.north west) -- ([yshift=-18pt]specificDicFor.east);
\draw[cg] ([xshift=10pt]membersSetRef.north west) .. controls (480,-2550) and (420,-2520) .. ([xshift=-35pt]specificDicFor.south east);
\draw[cg] ([yshift=7pt]membersExec.west) .. controls (620,-2680) and (450,-2600) .. ([xshift=24pt]specificDicFor.south);
\draw[cg] ([xshift=16pt]mailSel.north west) .. controls (500,-2670) and (420,-2580) .. ([xshift=16pt]specificDicFor.south);
\draw[cg] ([yshift=-10pt]membersExec.west) -- ([yshift=11pt]mailSel.east);
\draw[cg] ([xshift=22pt]membersView.south west) -- ([xshift=-45pt]getMembersTable.north east);
\draw[cg] ([yshift=-11pt]membersApply.west) -- ([yshift=11pt]getMembersTable.east);
\draw[cg] ([yshift=12pt]membersReset.west) -- ([yshift=-12pt]getMembersTable.east);
\draw[cg] (prgExport.south west) -- ([xshift=-3pt]exportAss.north east);
\draw[cg] (prgExportExcel) -- (exportAss);
\draw[cg] ([xshift=2pt]denyAnyOf.south west) -- (getPermHelper.north east);
\draw[cg] ([xshift=-25pt]spgExec.north) .. controls (1680,-2220) and (1580,-2190) .. (1480,-2200) .. controls (1380,-2210) and (1150,-2265) .. ([yshift=-2pt]denyAnyOf.north east);
\draw[cg] ([xshift=12pt]getSubTabs.south west) .. controls (1200,-2325) and (1000,-2375) .. ([yshift=5pt]getPermHelper.east);
\draw[cg] ([yshift=7pt]checkAccess.west) -- ([yshift=-8pt]getPermHelper.east);
\draw[cg] ([xshift=31pt]denyIfNot.south west) .. controls (1110,-2160) and (1105,-2280) .. ([yshift=-6pt]denyAnyOf.north east);
\draw[cg] ([xshift=52pt]spgView.south west) -- ([yshift=-2pt]denyIfNot.north east);
\draw[cg] ([xshift=-22pt]spgExec.north) .. controls (1700,-2130) and (1550,-2050) .. ([yshift=20pt]denyIfNot.east);
\draw[cg] ([xshift=-10pt]spgExec.north) .. controls (1740,-2180) and (1670,-2080) .. ([xshift=-16pt]spgView.south east);
\draw[cg] ([yshift=11pt]spgEdit.west) -- ([yshift=-9pt]denyIfNot.east);
\draw[cg] (spgExec.north west) -- (getSubTabs.south east);
\draw[cg] ([yshift=3pt]getTabs.south west) .. controls (1390,-2340) and (1390,-2400) .. ([xshift=-8pt]checkAccess.north east);
\draw[cg] (addNav.south west) -- ([xshift=-3pt]checkAccess.north east);
\draw[cg] (editAdv) -- (checkAccess);
\draw[cg] (updAdv.north west) -- (checkAccess.south east);
\draw[cg] (spgExec.south west) -- (addNav.north east);
\draw[cg] ([xshift=-27pt]spgExec.south) .. controls (1720,-2370) and (1650,-2400) .. ([yshift=-3pt]editAdv.north east);
\draw[cg] ([xshift=-15pt]spgExec.south) .. controls (1750,-2410) and (1680,-2460) .. (updAdv.north east);
\end{tikzpicture}
\end{document}
